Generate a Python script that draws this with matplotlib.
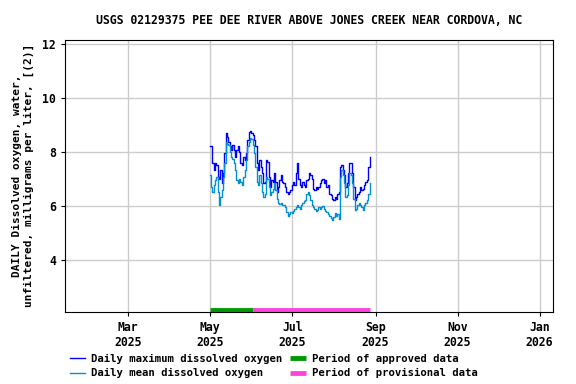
import numpy as np
import pandas as pd
import matplotlib
matplotlib.use("Agg")
import matplotlib.pyplot as plt

plt.rcParams['font.family'] = ['DejaVu Sans Mono']
plt.rcParams['font.weight'] = 'bold'

# daily values, starting 2025-05-01
dmax = [8.21, 8.2, 7.57, 7.32, 7.6, 7.5, 7.07, 7.0, 7.32, 6.84, 7.2, 7.94, 8.7, 8.55, 8.36, 8.2,
        8.05, 8.25, 8.05, 7.8, 8.05, 8.2, 8.0, 7.57, 7.5, 7.8, 7.7, 7.94, 8.43, 8.73, 8.78, 8.68,
        8.62, 8.43, 8.2, 7.57, 7.32, 7.7, 7.45, 7.2, 6.84, 6.9, 7.7, 7.63, 7.07, 6.7, 6.96, 6.9,
        7.2, 6.9, 6.5, 6.7, 6.96, 7.14, 6.9, 6.84, 6.7, 6.5, 6.45, 6.5, 6.57, 6.76, 6.9, 6.76,
        7.2, 7.57, 7.0, 6.76, 6.7, 6.9, 6.76, 6.7, 6.96, 7.0, 7.2, 7.14, 7.0, 6.63, 6.57, 6.7,
        6.63, 6.7, 6.84, 6.96, 7.0, 6.84, 6.96, 6.7, 6.76, 6.45, 6.4, 6.27, 6.2, 6.33, 6.27, 6.45,
        6.5, 7.45, 7.5, 7.32, 7.14, 6.7, 6.84, 7.2, 7.57, 7.6, 7.2, 6.7, 6.2, 6.33, 6.45, 6.5,
        6.7, 6.57, 6.63, 6.76, 6.9, 6.96, 7.45, 7.8]
dmean = [7.14, 6.7, 6.5, 6.76, 6.96, 7.07, 6.5, 6.03, 6.33, 6.57, 7.07, 7.57, 8.36, 8.3, 8.25, 8.0,
         7.8, 7.75, 7.57, 7.32, 6.96, 6.84, 7.0, 6.9, 6.76, 7.07, 7.32, 7.7, 8.2, 8.36, 8.5, 8.46,
         8.25, 7.94, 7.45, 6.9, 6.76, 7.14, 6.84, 6.5, 6.33, 6.45, 7.07, 7.0, 6.7, 6.4, 6.5, 6.63,
         6.84, 6.57, 6.27, 6.09, 6.06, 6.09, 6.03, 6.03, 5.94, 5.78, 5.61, 5.68, 5.78, 5.74, 5.81, 5.9,
         5.97, 6.03, 5.94, 5.9, 6.03, 6.12, 6.18, 6.21, 6.43, 6.5, 6.4, 6.21, 6.03, 5.94, 5.87, 5.81,
         5.84, 5.94, 5.87, 5.94, 5.99, 5.9, 5.81, 5.76, 5.68, 5.64, 5.56, 5.48, 5.58, 5.74, 5.64, 5.71,
         5.52, 7.07, 7.32, 7.14, 6.84, 6.33, 6.4, 6.76, 7.2, 7.14, 6.84, 6.27, 5.84, 5.9, 6.03, 6.09,
         6.03, 5.94, 5.84, 6.03, 6.09, 6.21, 6.45, 6.84]
days = pd.date_range("2025-05-01", periods=len(dmax), freq="D")

approved = ("2025-05-01", "2025-06-02")
provisional = ("2025-06-02", "2025-08-28")

tick_dates = pd.to_datetime(["2025-03-01", "2025-05-01", "2025-07-01", "2025-09-01",
                             "2025-11-01", "2026-01-01"])
tick_labels = ["Mar\n2025", "May\n2025", "Jul\n2025", "Sep\n2025", "Nov\n2025", "Jan\n2026"]

fig = plt.figure(figsize=(5.76, 3.84), dpi=100)
ax = fig.add_axes([0.113, 0.1875, 0.847, 0.709])

ax.plot(days, dmax, color='#0000ff', lw=1.0, drawstyle='steps-mid',
        label='Daily maximum dissolved oxygen')
ax.plot(days, dmean, color='#0090d8', lw=1.0, drawstyle='steps-mid',
        label='Daily mean dissolved oxygen')

ybar = 2.14
ax.plot(pd.to_datetime(approved), [ybar, ybar], color='#009900', lw=3.5,
        solid_capstyle='butt', label='Period of approved data')
ax.plot(pd.to_datetime(provisional), [ybar, ybar], color='#ff44dd', lw=3.5,
        solid_capstyle='butt', label='Period of provisional data')

ax.set_xlim(pd.Timestamp("2025-01-13"), pd.Timestamp("2026-01-11"))
ax.set_ylim(2.07, 12.15)
ax.set_yticks([4, 6, 8, 10, 12])
ax.set_xticks(tick_dates)
ax.set_xticklabels(tick_labels)
ax.tick_params(labelsize=8.3, length=3)
ax.grid(color='#cccccc', lw=1)
ax.set_axisbelow(True)

ax.set_title("USGS 02129375 PEE DEE RIVER ABOVE JONES CREEK NEAR CORDOVA, NC",
             fontsize=8.3, fontweight='bold', pad=11)
ax.set_ylabel("DAILY Dissolved oxygen, water,\nunfiltered, milligrams per liter, [(2)]",
              fontsize=8, fontweight='bold', labelpad=6)

h, l = ax.get_legend_handles_labels()
fig.legend(h, l, loc='lower left', bbox_to_anchor=(0.108, -0.005), ncol=2, frameon=False,
           fontsize=7.7, handlelength=1.45, handletextpad=0.55, columnspacing=0.75,
           labelspacing=0.45, borderaxespad=0.3)

fig.savefig("out.png", dpi=100)
